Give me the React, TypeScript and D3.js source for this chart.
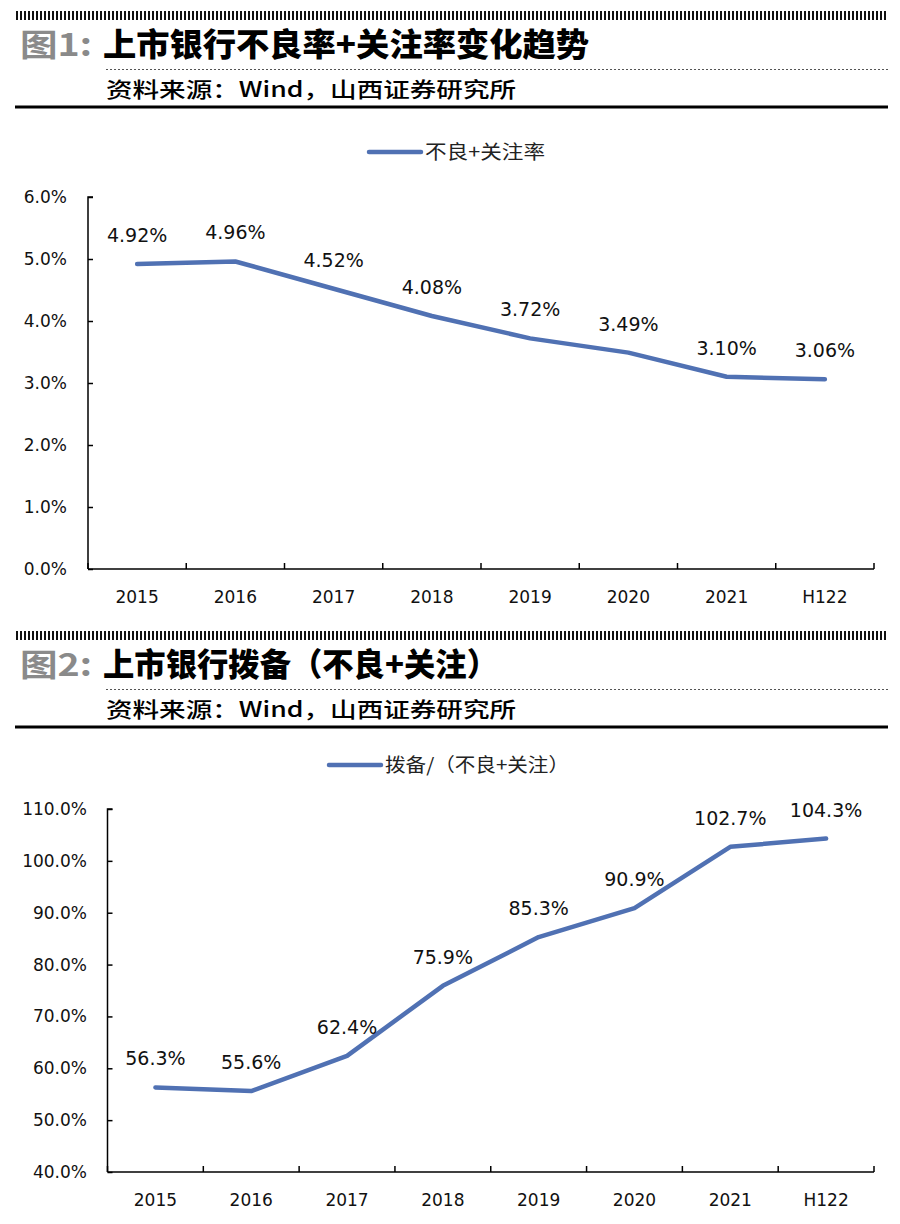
import React, { useEffect, useRef } from 'react';
import * as d3 from 'd3';

// shared categories
const categories = ['2015', '2016', '2017', '2018', '2019', '2020', '2021', 'H122'];

// chart 1: 不良+关注率 (%)
const nplRate = [4.92, 4.96, 4.52, 4.08, 3.72, 3.49, 3.10, 3.06];
const nplTicks = [0, 1, 2, 3, 4, 5, 6];

// chart 2: 拨备/（不良+关注） (%)
const coverage = [56.3, 55.6, 62.4, 75.9, 85.3, 90.9, 102.7, 104.3];
const coverageTicks = [40, 50, 60, 70, 80, 90, 100, 110];

const LINE_COLOR = '#5071b3';
const NUM_FONT = '"DejaVu Sans", sans-serif';
const CJK_FONT = '"Noto Sans CJK SC", sans-serif';

function drawHeader(svg, top, num, title, titleLen) {
  const g = svg.append('g').attr('transform', 'translate(0,' + top + ')');
  // hatch bar
  g.append('rect')
    .attr('x', 15).attr('y', 11).attr('width', 873).attr('height', 9)
    .attr('fill', 'url(#hatch)');
  g.append('text')
    .attr('x', 20).attr('y', 56)
    .style('font', 'bold 31px ' + CJK_FONT)
    .attr('fill', '#8a8a8a')
    .attr('textLength', 72).attr('lengthAdjust', 'spacingAndGlyphs')
    .text(num);
  g.append('text')
    .attr('x', 103).attr('y', 56)
    .style('font', '900 32px ' + CJK_FONT)
    .attr('fill', '#000')
    .attr('textLength', titleLen).attr('lengthAdjust', 'spacingAndGlyphs')
    .text(title);
  g.append('line')
    .attr('x1', 106).attr('x2', 888).attr('y1', 69.5).attr('y2', 69.5)
    .attr('stroke', '#555').attr('stroke-width', 1).attr('stroke-dasharray', '2,2');
  g.append('text')
    .attr('x', 106).attr('y', 97)
    .style('font', '500 21px ' + CJK_FONT)
    .attr('fill', '#000')
    .attr('textLength', 410).attr('lengthAdjust', 'spacingAndGlyphs')
    .text('资料来源：Wind，山西证券研究所');
  g.append('line')
    .attr('x1', 15).attr('x2', 888).attr('y1', 107).attr('y2', 107)
    .attr('stroke', '#000').attr('stroke-width', 3);
}

function drawChart(svg, opts) {
  const { left, right, top, bottom, domain, ticks, values, fmt, yFmt, legend, legendX, legendY, labelLen, yLabelRight } = opts;

  const x = d3.scaleBand().domain(categories).range([left, right]);
  const y = d3.scaleLinear().domain(domain).range([bottom, top]);

  const g = svg.append('g');

  // legend
  g.append('line')
    .attr('x1', legendX).attr('x2', legendX + 52)
    .attr('y1', legendY).attr('y2', legendY)
    .attr('stroke', LINE_COLOR).attr('stroke-width', 4.5).attr('stroke-linecap', 'round');
  g.append('text')
    .attr('x', legendX + 56).attr('y', legendY + 7)
    .style('font', '19px ' + CJK_FONT)
    .attr('fill', '#222')
    .attr('textLength', labelLen).attr('lengthAdjust', 'spacingAndGlyphs')
    .text(legend);

  // y axis
  const yAxis = g.append('g')
    .attr('transform', 'translate(' + left + ',0)')
    .call(d3.axisRight(y).tickValues(ticks).tickSize(5).tickFormat(''));
  yAxis.select('.domain').attr('d', 'M5,' + top + 'H0V' + bottom).attr('stroke', '#000').attr('stroke-width', 1.5);
  yAxis.selectAll('line').attr('stroke', '#000').attr('stroke-width', 1.5);

  g.selectAll('.ylab')
    .data(ticks)
    .enter().append('text')
    .attr('class', 'ylab')
    .attr('x', yLabelRight)
    .attr('y', d => y(d) + 6)
    .attr('text-anchor', 'end')
    .style('font', '17px ' + NUM_FONT)
    .attr('fill', '#111')
    .text(yFmt);

  // x axis with ticks at band edges
  const edges = categories.map(c => x(c)).concat([right]);
  g.append('line')
    .attr('x1', left).attr('x2', right).attr('y1', bottom).attr('y2', bottom)
    .attr('stroke', '#000').attr('stroke-width', 1.5);
  g.selectAll('.xtick')
    .data(edges)
    .enter().append('line')
    .attr('class', 'xtick')
    .attr('x1', d => d).attr('x2', d => d)
    .attr('y1', bottom).attr('y2', bottom - 6)
    .attr('stroke', '#000').attr('stroke-width', 1.5);
  g.selectAll('.xlab')
    .data(categories)
    .enter().append('text')
    .attr('class', 'xlab')
    .attr('x', d => x(d) + x.bandwidth() / 2)
    .attr('y', bottom + 34)
    .attr('text-anchor', 'middle')
    .style('font', '17px ' + NUM_FONT)
    .attr('fill', '#111')
    .text(d => d);

  // line
  const line = d3.line()
    .x((d, i) => x(categories[i]) + x.bandwidth() / 2)
    .y(d => y(d));
  g.append('path')
    .datum(values)
    .attr('d', line)
    .attr('fill', 'none')
    .attr('stroke', LINE_COLOR)
    .attr('stroke-width', 4.5)
    .attr('stroke-linejoin', 'round')
    .attr('stroke-linecap', 'round');

  // data labels
  g.selectAll('.dlab')
    .data(values)
    .enter().append('text')
    .attr('class', 'dlab')
    .attr('x', (d, i) => x(categories[i]) + x.bandwidth() / 2)
    .attr('y', d => y(d) - 22)
    .attr('text-anchor', 'middle')
    .style('font', '19px ' + NUM_FONT)
    .attr('fill', '#111')
    .text(fmt);
}

function App() {
  const ref = useRef(null);

  useEffect(() => {
    const root = d3.select(ref.current);
    root.selectAll('*').remove();
    const svg = root.append('svg')
      .attr('width', 900)
      .attr('height', 1224)
      .style('position', 'absolute')
      .style('left', 0)
      .style('top', 0)
      .style('background', '#fff');

    const defs = svg.append('defs');
    const pat = defs.append('pattern')
      .attr('id', 'hatch')
      .attr('width', 4).attr('height', 10)
      .attr('patternUnits', 'userSpaceOnUse');
    pat.append('rect').attr('x', 0).attr('y', 0).attr('width', 2).attr('height', 10).attr('fill', '#111');

    drawHeader(svg, 0, '图1:', '上市银行不良率+关注率变化趋势', 486);
    drawChart(svg, {
      left: 88, right: 874, top: 197, bottom: 569,
      domain: [0, 6], ticks: nplTicks, values: nplRate,
      fmt: d => d.toFixed(2) + '%',
      yFmt: d => d.toFixed(1) + '%',
      legend: '不良+关注率', legendX: 369, legendY: 152, labelLen: 120,
      yLabelRight: 67,
    });

    drawHeader(svg, 620, '图2:', '上市银行拨备（不良+关注）', 395);
    drawChart(svg, {
      left: 107.5, right: 874, top: 809, bottom: 1172,
      domain: [40, 110], ticks: coverageTicks, values: coverage,
      fmt: d => d.toFixed(1) + '%',
      yFmt: d => d.toFixed(1) + '%',
      legend: '拨备/（不良+关注）', legendX: 329, legendY: 765, labelLen: 184,
      yLabelRight: 87,
    });
  }, []);

  return <div className="charts" ref={ref}></div>;
}

export default App;
